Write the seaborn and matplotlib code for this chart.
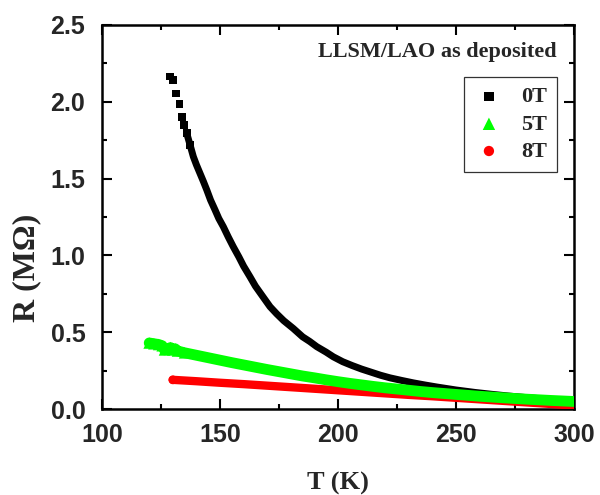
import numpy as np
import pandas as pd
import matplotlib
matplotlib.use("Agg")
import matplotlib.pyplot as plt
import seaborn as sns

# Resistance vs temperature of the LLSM/LAO film (as deposited) at three fields
temp_0T = [128.8, 130.2, 131.4, 132.8, 133.8, 134.7, 135.9, 137.3, 138.7, 140.0,
           141.5, 143.0, 144.4, 146.0, 147.9, 149.5, 151.4, 153.5, 155.6, 158.0,
           160.0, 162.7, 165.0, 168.0, 171.2, 174.0, 177.0, 181.0, 185.0, 188.0,
           191.0, 195.0, 198.0, 202.0, 206.0, 210.0, 214.0, 218.0, 222.0, 227.0,
           232.0, 237.0, 242.0, 250.0, 258.0, 265.0, 272.0, 280.0, 290.0, 300.0]
res_0T = [2.165, 2.140, 2.055, 1.984, 1.903, 1.849, 1.795, 1.720, 1.643, 1.590,
          1.535, 1.480, 1.426, 1.360, 1.296, 1.240, 1.187, 1.120, 1.057, 0.990,
          0.930, 0.861, 0.800, 0.735, 0.666, 0.620, 0.575, 0.525, 0.470, 0.440,
          0.406, 0.370, 0.340, 0.308, 0.283, 0.260, 0.240, 0.220, 0.203, 0.186,
          0.170, 0.156, 0.143, 0.124, 0.108, 0.096, 0.085, 0.074, 0.062, 0.050]

temp_5T = [120.0, 122.0, 124.0, 125.5, 126.5, 128.0, 129.0, 130.0, 131.0, 132.0,
           135.0, 140.0, 145.0, 150.0, 155.0, 160.0, 165.0, 170.0, 175.0, 180.0,
           185.0, 190.0, 195.0, 200.0, 205.0, 210.0, 215.0, 220.0, 225.0, 230.0,
           235.0, 240.0, 250.0, 260.0, 270.0, 280.0, 290.0, 300.0]
res_5T = [0.430, 0.425, 0.420, 0.412, 0.385, 0.392, 0.400, 0.385, 0.392, 0.378,
          0.366, 0.350, 0.334, 0.318, 0.302, 0.287, 0.272, 0.257, 0.243, 0.229,
          0.215, 0.203, 0.190, 0.178, 0.167, 0.157, 0.147, 0.138, 0.130, 0.122,
          0.114, 0.107, 0.095, 0.083, 0.073, 0.064, 0.056, 0.049]

temp_8T = [130.0, 140.0, 150.0, 160.0, 170.0, 180.0, 190.0, 200.0, 210.0, 220.0,
           230.0, 240.0, 250.0, 260.0, 270.0, 280.0, 290.0, 300.0]
res_8T = [0.190, 0.181, 0.171, 0.162, 0.152, 0.142, 0.132, 0.122, 0.112, 0.102,
          0.092, 0.083, 0.073, 0.063, 0.053, 0.043, 0.033, 0.022]

x_ticks = [100, 150, 200, 250, 300]
y_ticks = [0.0, 0.5, 1.0, 1.5, 2.0, 2.5]

df0 = pd.DataFrame({"T": temp_0T, "R": res_0T})
df5 = pd.DataFrame({"T": temp_5T, "R": res_5T})
df8 = pd.DataFrame({"T": temp_8T, "R": res_8T})

sns.set_style("white")
plt.rcParams["font.family"] = ["Liberation Sans", "DejaVu Sans"]
serif = ["Liberation Serif", "DejaVu Serif"]

fig = plt.figure(figsize=(6.0, 4.95), dpi=100)
ax = fig.add_axes([0.17, 0.1737, 0.7867, 0.7758])

black, green, red = "#000000", "#00ff00", "#ff0000"

# 0T: separated squares at the low-T end, merging into a dense band
sns.lineplot(data=df0.iloc[6:], x="T", y="R", ax=ax, color=black, linewidth=5.0,
             legend=False, zorder=2, sort=False)
sns.scatterplot(data=df0.iloc[:8], x="T", y="R", ax=ax, color=black, marker="s",
                s=30, edgecolor="none", label="0T", zorder=2)

# 8T
sns.lineplot(data=df8, x="T", y="R", ax=ax, color=red, linewidth=6.0,
             legend=False, zorder=3, sort=False, solid_capstyle="round")
sns.scatterplot(data=df8.iloc[:1], x="T", y="R", ax=ax, color=red, marker="o",
                s=40, edgecolor="none", label="8T", zorder=3)

# 5T: ragged start, then a dense band
sns.lineplot(data=df5, x="T", y="R", ax=ax, color=green, linewidth=7.8,
             legend=False, zorder=4, sort=False)
sns.scatterplot(data=df5.iloc[:11], x="T", y="R", ax=ax, color=green, marker="^",
                s=70, edgecolor="none", label="5T", zorder=4)

ax.set_xlim(100, 300)
ax.set_ylim(0, 2.5)
ax.set_xticks(x_ticks)
ax.set_yticks(y_ticks)
ax.set_xticklabels([str(v) for v in x_ticks])
ax.set_yticklabels([f"{v:.1f}" for v in y_ticks])
ax.set_xticks(np.arange(125, 300, 50), minor=True)
ax.set_yticks(np.arange(0.25, 2.5, 0.5), minor=True)

for side in ax.spines.values():
    side.set_linewidth(1.8)
    side.set_color("black")
    side.set_visible(True)

ax.tick_params(which="both", direction="in", top=True, right=True,
               bottom=True, left=True, width=1.5, color="black")
ax.tick_params(which="major", length=7)
ax.tick_params(which="minor", length=3.8)
ax.tick_params(axis="x", which="major", pad=10)
ax.tick_params(axis="y", which="major", pad=12)
for lab in ax.get_xticklabels() + ax.get_yticklabels():
    lab.set_fontsize(18)
    lab.set_fontweight("bold")

ax.set_xlabel("T (K)", family=serif, fontsize=19, fontweight="bold", labelpad=18)
ax.set_ylabel("R (M\u03a9)", family=serif, fontsize=23, fontweight="bold")
ax.yaxis.set_label_coords(-0.129, 0.367)

ax.text(0.964, 0.955, "LLSM/LAO as deposited", transform=ax.transAxes,
        ha="right", va="top", family=serif, fontsize=16, fontweight="bold")

handles, labels = ax.get_legend_handles_labels()
order = [labels.index(k) for k in ["0T", "5T", "8T"]]
leg = ax.legend([handles[i] for i in order], [labels[i] for i in order],
                loc="upper right", bbox_to_anchor=(0.964, 0.865),
                frameon=True, fancybox=False, edgecolor="black",
                prop={"family": serif, "size": 16, "weight": "bold"},
                handletextpad=0.8, borderpad=0.45, labelspacing=0.3,
                handlelength=1.3, borderaxespad=0)
leg.get_frame().set_linewidth(0.9)
for h, sz in zip(leg.legend_handles, [45, 80, 55]):
    h.set_sizes([sz])

fig.savefig("out.png", dpi=100, facecolor="white")
